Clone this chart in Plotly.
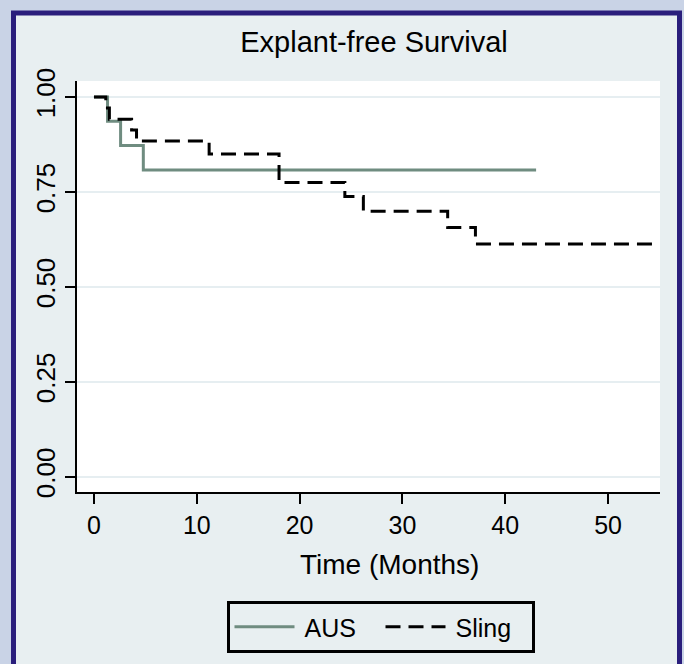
import plotly.graph_objects as go

# ---- data ----
aus_time = [0, 1.32, 2.59, 4.80, 43.0]
aus_surv = [1.0, 0.936, 0.872, 0.808, 0.808]

sling_time = [0, 1.15, 1.50, 3.66, 4.14, 11.2, 18.0, 24.4, 26.2, 34.4, 37.1, 55.0]
sling_surv = [1.0, 0.971, 0.941, 0.913, 0.884, 0.850, 0.775, 0.738, 0.699, 0.656, 0.613, 0.613]

series_names = ["AUS", "Sling"]
x_ticks = [0, 10, 20, 30, 40, 50]
y_ticks = [0.0, 0.25, 0.50, 0.75, 1.00]
y_tick_labels = ["0.00", "0.25", "0.50", "0.75", "1.00"]

FONT = "Arial, Liberation Sans, sans-serif"
OUTER = "#c9d3e6"
PANEL = "#e8eff1"
NAVY = "#2a1e7c"
AUS_COLOR = "#6f8c80"

fig = go.Figure()
fig.add_trace(go.Scatter(x=aus_time, y=aus_surv, mode="lines",
                         name="\u2009" + series_names[0],
                         line=dict(color=AUS_COLOR, width=3, shape="hv")))
fig.add_trace(go.Scatter(x=sling_time, y=sling_surv, mode="lines",
                         name="\u2009" + series_names[1],
                         line=dict(color="black", width=3, shape="hv", dash="15px,8px")))

W, H = 684, 664
L, R, T, B = 77, 24, 81, 172
pw, ph = W - L - R, H - T - B

def px_x(p):
    return (p - L) / pw

def px_y(p):
    return (H - B - p) / ph

fig.update_layout(
    width=W, height=H,
    margin=dict(l=L, r=R, t=T, b=B, autoexpand=False),
    paper_bgcolor=OUTER,
    plot_bgcolor="rgba(0,0,0,0)",
    font=dict(family=FONT, color="black"),
    title=dict(text="Explant-free Survival", x=374 / W, xanchor="center",
               y=1 - 42 / H, yanchor="middle", yref="container",
               font=dict(size=29, family=FONT, color="black")),
    showlegend=True,
    legend=dict(orientation="h", x=px_x(380.5), xanchor="center",
                y=px_y(601), yanchor="top",
                bgcolor=PANEL, bordercolor="black", borderwidth=3,
                font=dict(size=25, family=FONT, color="black"),
                itemwidth=60, entrywidth=76, entrywidthmode="pixels",
                tracegroupgap=0),
    shapes=[
        dict(type="rect", xref="paper", yref="paper",
             x0=px_x(13.5), x1=px_x(679.5), y0=px_y(720), y1=px_y(13),
             fillcolor=PANEL, line=dict(color=NAVY, width=5), layer="below"),
        dict(type="rect", xref="paper", yref="paper",
             x0=0, x1=1, y0=0, y1=1,
             fillcolor="white", line=dict(width=0), layer="below"),
    ],
    annotations=[
        dict(text="Time (Months)", xref="paper", yref="paper",
             x=px_x(389), y=px_y(564), xanchor="center", yanchor="middle",
             showarrow=False, font=dict(size=28, family=FONT, color="black")),
    ],
)

fig.update_xaxes(range=[-1.65, 55.05], tickvals=x_ticks, ticks="outside", ticklen=10,
                 tickwidth=2, tickcolor="black", showline=True, linecolor="black",
                 linewidth=2, showgrid=False, zeroline=False,
                 tickfont=dict(size=25, family=FONT, color="black"))
fig.update_yaxes(range=[-0.04, 1.042], tickvals=y_ticks, ticktext=y_tick_labels,
                 ticks="outside", ticklen=10, tickwidth=2, tickcolor="black",
                 showline=True, linecolor="black", linewidth=2,
                 showgrid=True, gridcolor="#e6eef1", gridwidth=2, zeroline=False,
                 tickangle=-90, tickfont=dict(size=26, family=FONT, color="black"))

fig.write_html("out.html",
               config={"displayModeBar": False},
               post_script="document.body.style.margin='0';"
                           "document.body.style.background='" + OUTER + "';")
